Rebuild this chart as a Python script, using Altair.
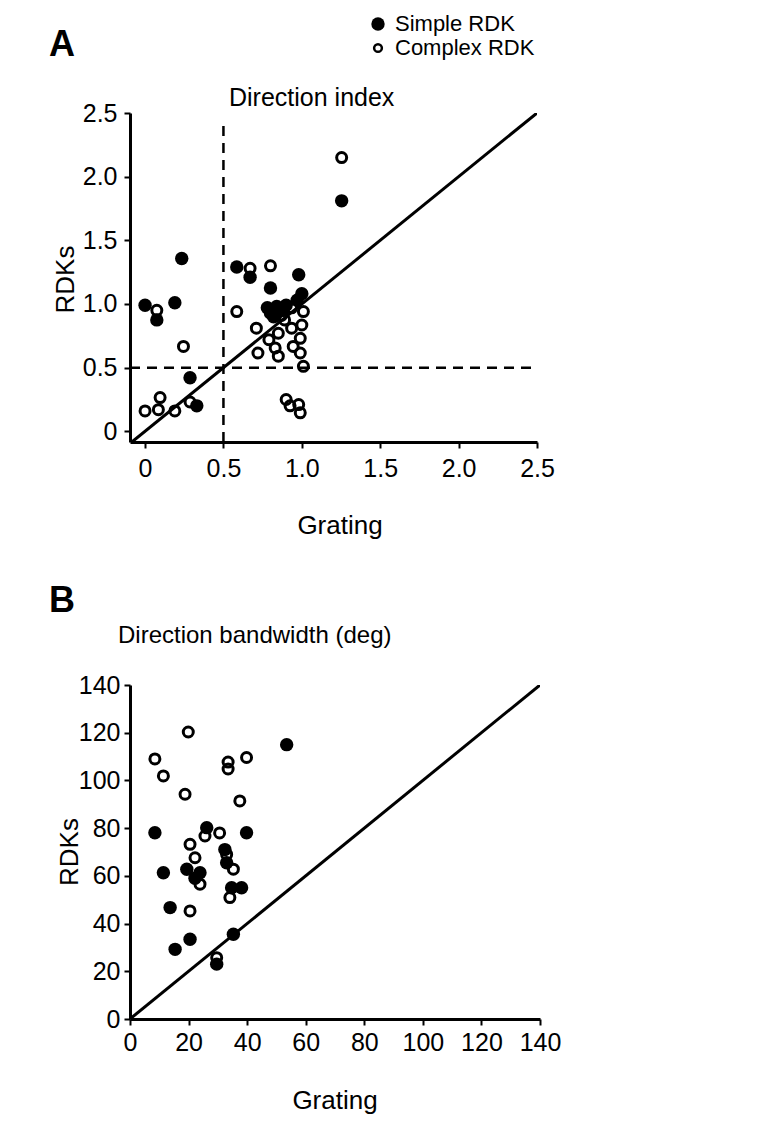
import altair as alt
import pandas as pd

FONT = "Liberation Sans"

# ---------------- Panel A: Direction index ----------------
a_simple_x = [0.00, 0.075, 0.19, 0.234, 0.287, 0.33, 0.585, 0.67, 0.80, 0.98, 1.00, 0.97,
              0.78, 0.80, 0.84, 0.88, 0.90, 0.82, 1.254]
a_simple_y = [0.99, 0.875, 1.01, 1.357, 0.42, 0.20, 1.29, 1.21, 1.125, 1.23, 1.08, 1.03,
              0.97, 0.93, 0.98, 0.95, 0.99, 0.90, 1.81]
a_complex_x = [0.00, 0.085, 0.096, 0.075, 0.19, 0.245, 0.287, 0.585, 0.67, 0.80, 0.71, 0.72,
               0.79, 0.83, 0.85, 0.85, 0.87, 0.935, 1.01, 0.935, 1.00, 0.99, 0.945, 0.99,
               1.01, 0.90, 0.925, 0.98, 0.99, 1.254, 0.89]
a_complex_y = [0.16, 0.17, 0.265, 0.95, 0.16, 0.667, 0.23, 0.94, 1.28, 1.30, 0.81, 0.615,
               0.72, 0.655, 0.59, 0.77, 0.91, 0.97, 0.94, 0.81, 0.835, 0.73, 0.667, 0.615,
               0.51, 0.25, 0.20, 0.21, 0.145, 2.15, 0.875]
a_ticks = [0, 0.5, 1.0, 1.5, 2.0, 2.5]
a_x_domain = [-0.096, 2.5]
a_y_domain = [-0.084, 2.5]
a_diag = [-0.084, 2.5]
a_vline = {"x": 0.5, "y": -0.084, "y2": 2.45}
a_hline = {"y": 0.5, "x": -0.096, "x2": 2.5}

# ---------------- Panel B: Direction bandwidth ----------------
b_simple_x = [8.5, 39.8, 26.2, 11.4, 19.4, 23.9, 22.2, 32.4, 33.0, 34.7, 38.1, 13.7, 20.5,
              15.4, 35.3, 29.6, 53.5]
b_simple_y = [78.1, 78.1, 80.2, 61.3, 62.8, 61.3, 59.0, 71.0, 65.5, 55.0, 55.0, 46.7, 33.4,
              29.2, 35.5, 23.0, 115.0]
b_complex_x = [19.9, 8.5, 39.8, 33.5, 33.5, 11.4, 18.8, 37.5, 30.6, 25.6, 20.5, 22.2, 23.9,
               33.0, 35.3, 34.1, 20.5, 29.6]
b_complex_y = [120.3, 109.0, 109.6, 107.7, 104.8, 101.9, 94.2, 91.4, 78.0, 76.7, 73.2, 67.6,
               56.5, 69.0, 62.8, 50.9, 45.3, 25.7]
b_ticks = [0, 20, 40, 60, 80, 100, 120, 140]
b_domain = [0, 140]
b_diag = [0, 140]

A_W, A_H = 407, 329
B_W, B_H = 410, 334


def one(label):
    return pd.DataFrame({"t": [label]})


def txt(label, x, y, size, weight="normal", align="left", angle=0):
    return alt.Chart(one(label)).mark_text(
        font=FONT, fontSize=size, fontWeight=weight, align=align,
        baseline="middle", color="black", angle=angle
    ).encode(x=alt.value(x), y=alt.value(y), text="t:N")


def anchor(x, y):
    return alt.Chart(one("")).mark_rule(strokeOpacity=0, strokeWidth=1).encode(
        x=alt.value(x), x2=alt.value(x + 1), y=alt.value(y), y2=alt.value(y + 1)
    )


def encs(xdom, ydom, ticks, label_expr, xpad, ypad):
    xaxis = alt.Axis(values=ticks, labelExpr=label_expr, title=None, grid=False,
                     labelFlush=False, labelOverlap=False, labelPadding=xpad)
    yaxis = alt.Axis(values=ticks, labelExpr=label_expr, title=None, grid=False,
                     labelOverlap=False, labelPadding=ypad)
    X = alt.X("x:Q", scale=alt.Scale(domain=xdom, nice=False, zero=False), axis=xaxis)
    Y = alt.Y("y:Q", scale=alt.Scale(domain=ydom, nice=False, zero=False), axis=yaxis)
    return X, Y


def make_panel(sx, sy, cx, cy, X, Y, diag):
    diag_df = pd.DataFrame({"x": diag, "y": diag})
    line = alt.Chart(diag_df).mark_line(color="black", strokeWidth=3, clip=True).encode(x=X, y=Y)
    simple = alt.Chart(pd.DataFrame({"x": sx, "y": sy})).mark_circle(
        size=180, color="black", opacity=1).encode(x=X, y=Y)
    complex_ = alt.Chart(pd.DataFrame({"x": cx, "y": cy})).mark_point(
        shape="circle", filled=False, size=100, strokeWidth=3, color="black", opacity=1
    ).encode(x=X, y=Y)
    return [line, complex_, simple]


lbl_a = "datum.value == 0 ? '0' : format(datum.value, '.1f')"
XA, YA = encs(a_x_domain, a_y_domain, a_ticks, lbl_a, 8, 7)
layers_a = make_panel(a_simple_x, a_simple_y, a_complex_x, a_complex_y, XA, YA, a_diag)

vline = alt.Chart(pd.DataFrame([a_vline])).mark_rule(
    color="black", strokeWidth=2.5, strokeDash=[10, 7]).encode(x=XA, y=YA, y2="y2:Q")
hline = alt.Chart(pd.DataFrame([a_hline])).mark_rule(
    color="black", strokeWidth=2.5, strokeDash=[10, 7]).encode(y=YA, x=XA, x2="x2:Q")

legend_simple = alt.Chart(one("s")).mark_circle(size=180, color="black", opacity=1).encode(
    x=alt.value(248), y=alt.value(-89))
legend_complex = alt.Chart(one("c")).mark_point(
    shape="circle", filled=False, size=60, strokeWidth=2.5, color="black", opacity=1
).encode(x=alt.value(248), y=alt.value(-65))

panel_a = alt.layer(
    anchor(-130, -113), anchor(-130, A_H + 110),
    hline, vline, *layers_a,
    txt("A", -68, -68, 36, weight="bold", align="center"),
    legend_simple, legend_complex,
    txt("Simple RDK", 265, -89, 22),
    txt("Complex RDK", 265, -65, 22),
    txt("Direction index", 99, -15, 25),
    txt("RDKs", -64, A_H / 2 + 2, 26, align="center", angle=270),
    txt("Grating", 210, A_H + 84, 26, align="center"),
).properties(width=A_W, height=A_H)

lbl_b = "format(datum.value, 'd')"
XB, YB = encs(b_domain, b_domain, b_ticks, lbl_b, 5, 4)
layers_b = make_panel(b_simple_x, b_simple_y, b_complex_x, b_complex_y, XB, YB, b_diag)

panel_b = alt.layer(
    anchor(-130, -110),
    *layers_b,
    txt("B", -68, -84, 36, weight="bold", align="center"),
    txt("Direction bandwidth (deg)", -12, -49, 24),
    txt("RDKs", -60, B_H / 2, 26, align="center", angle=270),
    txt("Grating", 205, B_H + 82, 26, align="center"),
).properties(width=B_W, height=B_H)

chart = alt.vconcat(panel_a, panel_b, spacing=22).properties(
    padding={"left": 0, "top": 0, "right": 0, "bottom": 0}
).configure_axis(
    domainColor="black", domainWidth=3, tickColor="black", tickWidth=2, tickSize=6,
    labelFont=FONT, labelFontSize=25, labelColor="black"
).configure_view(strokeWidth=0)

chart.save("out.html", embed_options={"renderer": "svg", "actions": False})
